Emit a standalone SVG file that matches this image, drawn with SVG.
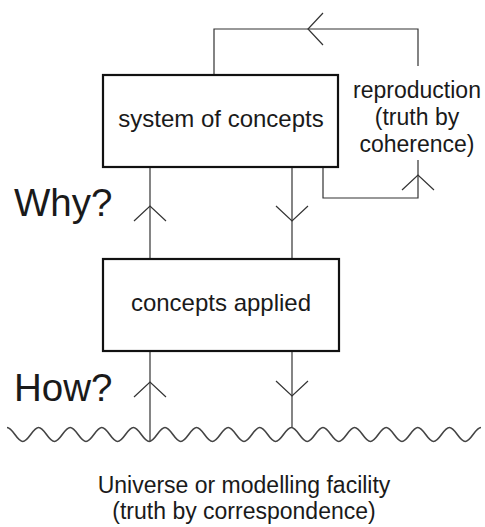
<svg xmlns="http://www.w3.org/2000/svg" width="485" height="527" viewBox="0 0 485 527">
<style>
.box{fill:#fff;stroke:#111;stroke-width:2.2}
.ln{fill:none;stroke:#333;stroke-width:1.2}
.wave{fill:none;stroke:#444;stroke-width:1.6}
.t{font-family:"Liberation Sans",Arial,sans-serif;fill:#1a1a1a}
.bt{font-size:24px;text-anchor:middle}
.st{font-size:23px;text-anchor:middle}
.big{font-size:38.5px}
</style>
<defs>
<path id="chev" d="M-16,15 L0,0 L16,15" fill="none" stroke="#333" stroke-width="1.2"/>
</defs>
<rect width="485" height="527" fill="#fff"/>
<g id="connectors">
<path class="ln" d="M214,75 V29 H418 V66"/>
<use href="#chev" transform="translate(308,29) rotate(-90)"/>
<path class="ln" d="M323,167 V198 H418 V160"/>
<use href="#chev" transform="translate(418,175)"/>
<path class="ln" d="M150,167 V259"/>
<use href="#chev" transform="translate(150,206)"/>
<path class="ln" d="M292,167 V259"/>
<use href="#chev" transform="translate(292,221) rotate(180)"/>
<path class="ln" d="M150,351 V441.5"/>
<use href="#chev" transform="translate(150,382)"/>
<path class="ln" d="M292,351 V427.5"/>
<use href="#chev" transform="translate(292,396) rotate(180)"/>
</g>
<g id="system-of-concepts">
<rect class="box" x="103" y="75" width="235" height="92"/>
<text class="t bt" x="221" y="127">system of concepts</text>
</g>
<g id="concepts-applied">
<rect class="box" x="103" y="259" width="236" height="92"/>
<text class="t bt" x="221" y="311">concepts applied</text>
</g>
<g id="reproduction">
<text class="t st" x="417" y="98">reproduction</text>
<text class="t st" x="417" y="125">(truth by</text>
<text class="t st" x="417" y="152">coherence)</text>
</g>
<g id="why"><text class="t big" x="14" y="216">Why?</text></g>
<g id="how"><text class="t big" x="14" y="401">How?</text></g>
<g id="universe">
<path class="wave" d="M7,427.5 c5.75,0 10.05,14 15.8,14 s10.05,-14 15.8,-14 s10.05,14 15.8,14 s10.05,-14 15.8,-14 s10.05,14 15.8,14 s10.05,-14 15.8,-14 s10.05,14 15.8,14 s10.05,-14 15.8,-14 s10.05,14 15.8,14 s10.05,-14 15.8,-14 s10.05,14 15.8,14 s10.05,-14 15.8,-14 s10.05,14 15.8,14 s10.05,-14 15.8,-14 s10.05,14 15.8,14 s10.05,-14 15.8,-14 s10.05,14 15.8,14 s10.05,-14 15.8,-14 s10.05,14 15.8,14 s10.05,-14 15.8,-14 s10.05,14 15.8,14 s10.05,-14 15.8,-14 s10.05,14 15.8,14 s10.05,-14 15.8,-14 s10.05,14 15.8,14 s10.05,-14 15.8,-14 s10.05,14 15.8,14 s10.05,-14 15.8,-14 s10.05,14 15.8,14 s10.05,-14 15.8,-14"/>
<text class="t st" x="244" y="493">Universe or modelling facility</text>
<text class="t st" x="244" y="519">(truth by correspondence)</text>
</g>
</svg>
